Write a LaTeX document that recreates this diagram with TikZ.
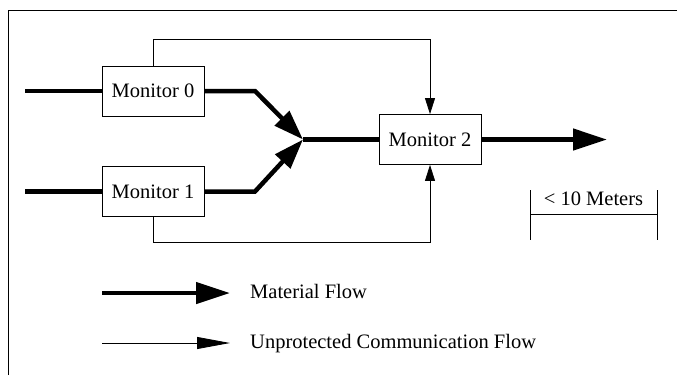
\documentclass[tikz,border=0pt]{standalone}
\usepackage{fontspec}
\setmainfont{Liberation Serif}
\usetikzlibrary{arrows.meta}
\tikzset{
  mon/.style={draw, line width=0.8pt, minimum width=102pt, minimum height=50pt, inner sep=0pt, font=\fontsize{20.5}{24}\selectfont},
  lbl/.style={inner sep=0pt, font=\fontsize{20.5}{24}\selectfont},
  matline/.style={line width=4.5pt},
  matarrow/.style={line width=4.5pt, -{Triangle[length=34pt,width=21pt]}},
  mergearrow/.style={line width=4.5pt, -{Triangle[length=30pt,width=20pt]}},
  commline/.style={line width=0.8pt},
  commarrow/.style={line width=0.8pt, -{Triangle[length=16pt,width=10pt]}},
  legcomm/.style={line width=0.8pt, -{Triangle[length=33pt,width=12pt]}},
  thinline/.style={line width=0.7pt}
}
\begin{document}
\begin{tikzpicture}[x=1pt,y=-1pt]
\useasboundingbox (0,0) rectangle (677,375);
% frame
\draw[line width=1pt] (8,375) -- (8,10) -- (677,10);
% monitors
\node[mon] (m0) at (153,91) {Monitor 0};
\node[mon] (m1) at (153,191.5) {Monitor 1};
\node[mon] (m2) at (430,139.5) {Monitor 2};
% material flow
\coordinate (in0) at (25,91);
\coordinate (in1) at (25,191.5);
\coordinate (c0) at (255,91);
\coordinate (c1) at (255,191.5);
\coordinate (j) at (303,139.5);
\coordinate (out) at (607,139.5);
\draw[matline] (in0) -- (m0.west);
\draw[matline] (in1) -- (m1.west);
\draw[mergearrow] (m0.east) -- (c0) -- (j);
\draw[mergearrow] (m1.east) -- (c1) -- (j);
\draw[matline] (j) -- (m2.west);
\draw[matarrow] (m2.east) -- (out);
% communication
\draw[commarrow] (m0.north) -- ++(0,-26) -| (m2.north);
\draw[commarrow] (m1.south) -- ++(0,25) -| (m2.south);
% scale bar
\coordinate (sa) at (530,190);
\coordinate (sb) at (530,240);
\coordinate (sc) at (657,190);
\coordinate (sd) at (657,240);
\coordinate (se) at (530,214);
\coordinate (sf) at (657,214);
\draw[thinline] (sa) -- (sb);
\draw[thinline] (sc) -- (sd);
\draw[thinline] (se) -- (sf);
\node[lbl, anchor=base] (scale) at (593.5,205) {< 10 Meters};
% legend
\coordinate (la) at (102,293);
\coordinate (lb) at (230,293);
\coordinate (lc) at (102,343);
\coordinate (ld) at (230,343);
\draw[matarrow] (la) -- (lb);
\draw[legcomm] (lc) -- (ld);
\node[lbl, anchor=base west] (lmat) at (250,298) {Material Flow};
\node[lbl, anchor=base west] (lcom) at (250,348) {Unprotected Communication Flow};
\end{tikzpicture}
\end{document}
